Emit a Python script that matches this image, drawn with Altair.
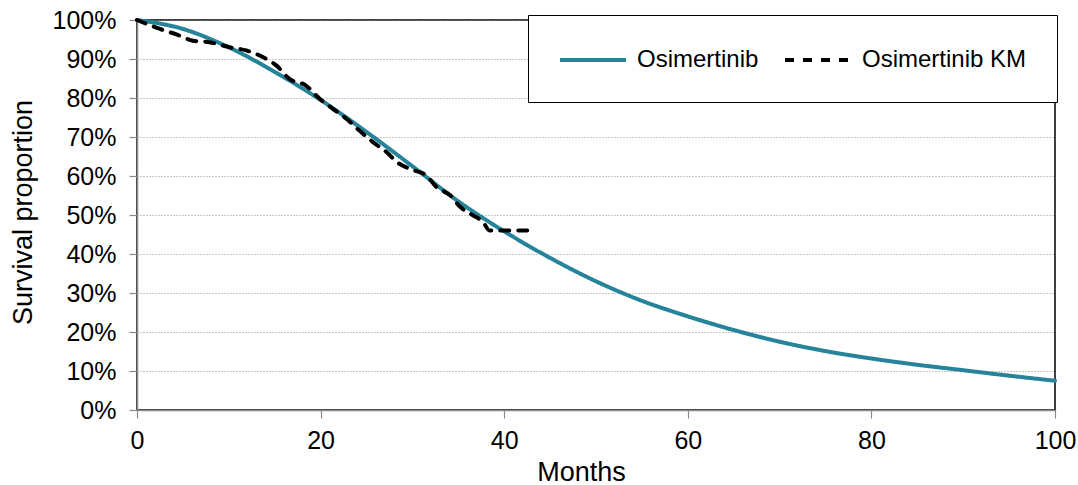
import altair as alt
import pandas as pd

# Fitted curve
fit_months = [0, 5, 10, 15, 20, 25, 30, 35, 40, 45, 50, 55, 60, 65, 70, 75, 80, 85, 90, 95, 100]
fit_surv = [1.0, 0.977, 0.93, 0.867, 0.795, 0.713, 0.625, 0.535, 0.458, 0.39, 0.33, 0.28,
            0.24, 0.205, 0.175, 0.151, 0.132, 0.116, 0.102, 0.088, 0.075]

# Kaplan-Meier curve
km_months = [0, 2.5, 4.3, 6.1, 7.9, 10.1, 11.9, 13.7, 15.2, 16.6, 18.4, 19.9, 21.3, 22.8, 24.2,
             25.7, 27.2, 28.3, 30.1, 31.5, 32.6, 34.1, 35.2, 36.6, 37.7, 38.4, 43.0]
km_surv = [1.0, 0.977, 0.963, 0.947, 0.943, 0.930, 0.922, 0.905, 0.883, 0.849, 0.832, 0.798,
           0.773, 0.747, 0.717, 0.687, 0.661, 0.636, 0.615, 0.602, 0.572, 0.551, 0.521, 0.499,
           0.482, 0.460, 0.460]

series = ["Osimertinib", "Osimertinib KM"]
colors = ["#25849A", "#000000"]
dashes = [[1, 0], [9, 9]]

df = pd.concat([
    pd.DataFrame({"Months": fit_months, "Survival": fit_surv, "Series": series[0]}),
    pd.DataFrame({"Months": km_months, "Survival": km_surv, "Series": series[1]}),
])

FONT = "Liberation Sans"

legend = alt.Legend(
    title=None, orient="none", legendX=391, legendY=-5, direction="horizontal",
    strokeColor="black", fillColor="white", padding=30,
    symbolType="M-1,0H4.08", symbolSize=676, symbolStrokeWidth=4,
    labelFontSize=24, labelFont=FONT, labelColor="black", labelOffset=49, labelLimit=400,
    columnPadding=18,
)

chart = alt.Chart(df).mark_line(strokeWidth=4, strokeCap="round", interpolate="monotone").encode(
    x=alt.X("Months:Q", scale=alt.Scale(domain=[0, 100], nice=False),
            axis=alt.Axis(values=[0, 20, 40, 60, 80, 100], grid=False, title="Months",
                          titleX=444, titleY=70, titleBaseline="alphabetic", titleAlign="center",
                          titleFontSize=27, titleFontWeight="normal", labelPadding=10,
                          labelFlush=False)),
    y=alt.Y("Survival:Q", scale=alt.Scale(domain=[0, 1], nice=False),
            axis=alt.Axis(values=[i / 10 for i in range(11)], format=".0%", grid=True,
                          title="Survival proportion", titleX=-106, titleY=192,
                          titleBaseline="alphabetic", titleAlign="center", titleAngle=270,
                          titleFontSize=27, titleFontWeight="normal", labelPadding=13)),
    color=alt.Color("Series:N", scale=alt.Scale(domain=series, range=colors), legend=legend,
                    sort=series),
    strokeDash=alt.StrokeDash("Series:N", scale=alt.Scale(domain=series, range=dashes),
                              legend=legend, sort=series),
    detail="Series:N",
).properties(
    width=918, height=390,
    autosize=alt.AutoSizeParams(type="none"),
    padding={"left": 137, "top": 20, "right": 23, "bottom": 75},
).configure_view(
    stroke="black", strokeWidth=1.5
).configure_axis(
    labelFont=FONT, titleFont=FONT, labelFontSize=25, labelColor="black", titleColor="black",
    domainColor="#8a8a8a", domainWidth=1.5, tickColor="#8a8a8a", tickSize=8, tickWidth=1.2,
    gridColor="#8f8f8f", gridDash=[1, 2], gridWidth=1,
)

chart.save("out.html", embed_options={"renderer": "svg", "actions": False})
